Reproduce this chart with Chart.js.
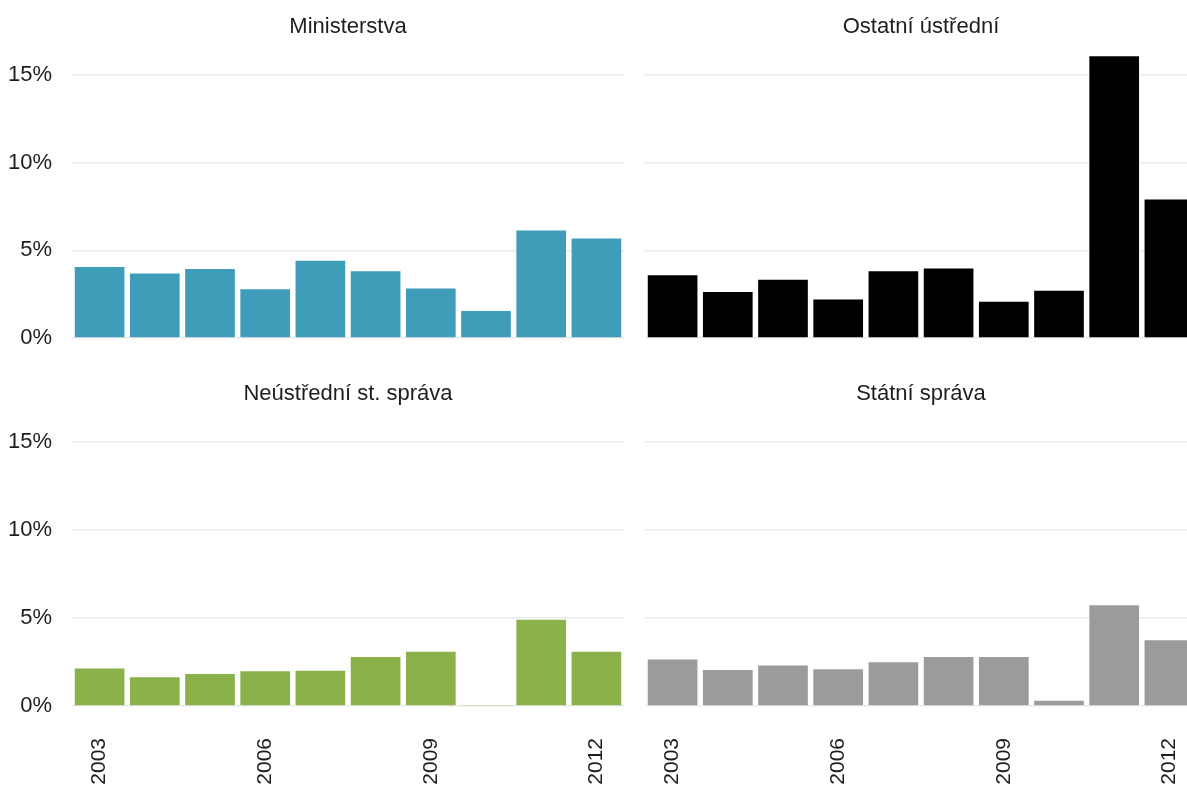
<!DOCTYPE html>
<html>
<head>
<meta charset="utf-8">
<script src="https://cdn.jsdelivr.net/npm/chart.js@4"></script>
<style>
  html, body { margin: 0; padding: 0; background: #fff; overflow: hidden; width: 1187px; height: 789px; }
  .panel { position: absolute; }
</style>
</head>
<body>
<div class="panel" style="left:0;top:0"><canvas id="c1" width="624" height="345"></canvas></div>
<div class="panel" style="left:645px;top:0"><canvas id="c2" width="552" height="345"></canvas></div>
<div class="panel" style="left:0;top:367px"><canvas id="c3" width="624" height="422"></canvas></div>
<div class="panel" style="left:645px;top:367px"><canvas id="c4" width="552" height="422"></canvas></div>
<script>
// roky
const years = ['2003', '2004', '2005', '2006', '2007', '2008', '2009', '2010', '2011', '2012'];

// hodnoty v %
const ministerstva = [4.05, 3.68, 3.94, 2.78, 4.41, 3.81, 2.83, 1.54, 6.14, 5.67];
const ostatni = [3.58, 2.63, 3.32, 2.2, 3.81, 3.97, 2.07, 2.69, 16.08, 7.9];
const neustredni = [2.13, 1.63, 1.82, 1.97, 2.01, 2.79, 3.09, 0.06, 4.9, 3.09];
const statni = [2.64, 2.05, 2.3, 2.09, 2.49, 2.79, 2.79, 0.3, 5.73, 3.74];

const panelTitles = ['Ministerstva', 'Ostatní ústřední', 'Neústřední st. správa', 'Státní správa'];
const panelColors = ['#3f9dba', '#000000', '#8bb14b', '#9b9b9b'];
const yMax = 16.3;

const font = 'Liberation Sans, Arial, sans-serif';
const textColor = '#1e1e1e';

function makePanel(id, title, values, color, showY, showX) {
    const ctx = document.getElementById(id).getContext('2d');
    return new Chart(ctx, {
        type: 'bar',
        data: {
            labels: years,
            datasets: [{
                data: values,
                backgroundColor: color,
                borderWidth: 0,
                barPercentage: 0.9,
                categoryPercentage: 1.0
            }]
        },
        options: {
            responsive: false,
            animation: false,
            layout: { padding: { left: 0, right: 0, top: 0, bottom: showX ? 0 : 7 } },
            plugins: {
                legend: { display: false },
                tooltip: { enabled: false },
                title: {
                    display: true,
                    text: title,
                    fullSize: false,
                    color: textColor,
                    font: { family: font, size: 22, weight: 'normal', lineHeight: 1.15 },
                    padding: { top: 14, bottom: 13 }
                }
            },
            scales: {
                x: {
                    display: showX,
                    grid: { display: false, drawTicks: false },
                    border: { display: false },
                    ticks: {
                        autoSkip: false,
                        minRotation: 90,
                        maxRotation: 90,
                        padding: 32,
                        color: textColor,
                        font: { family: font, size: 21 },
                        callback: (val, i) => (i % 3 === 0 ? years[i] : '')
                    },
                    afterFit: (s) => {
                        s.height = showX ? 83 : 0;
                        s.paddingLeft = 0;
                        s.paddingRight = 0;
                    }
                },
                y: {
                    min: 0,
                    max: yMax,
                    grid: { color: '#ebebeb', lineWidth: 1.5, drawTicks: false },
                    border: { display: false },
                    ticks: {
                        display: showY,
                        stepSize: 5,
                        includeBounds: false,
                        padding: 20,
                        color: textColor,
                        font: { family: font, size: 22 },
                        callback: (v) => v + '%'
                    },
                    afterFit: (s) => {
                        s.width = showY ? 72 : 0;
                        s.paddingTop = 0;
                        s.paddingBottom = 0;
                    }
                }
            }
        }
    });
}

makePanel('c1', panelTitles[0], ministerstva, panelColors[0], true, false);
makePanel('c2', panelTitles[1], ostatni, panelColors[1], false, false);
makePanel('c3', panelTitles[2], neustredni, panelColors[2], true, true);
makePanel('c4', panelTitles[3], statni, panelColors[3], false, true);
</script>
</body>
</html>
